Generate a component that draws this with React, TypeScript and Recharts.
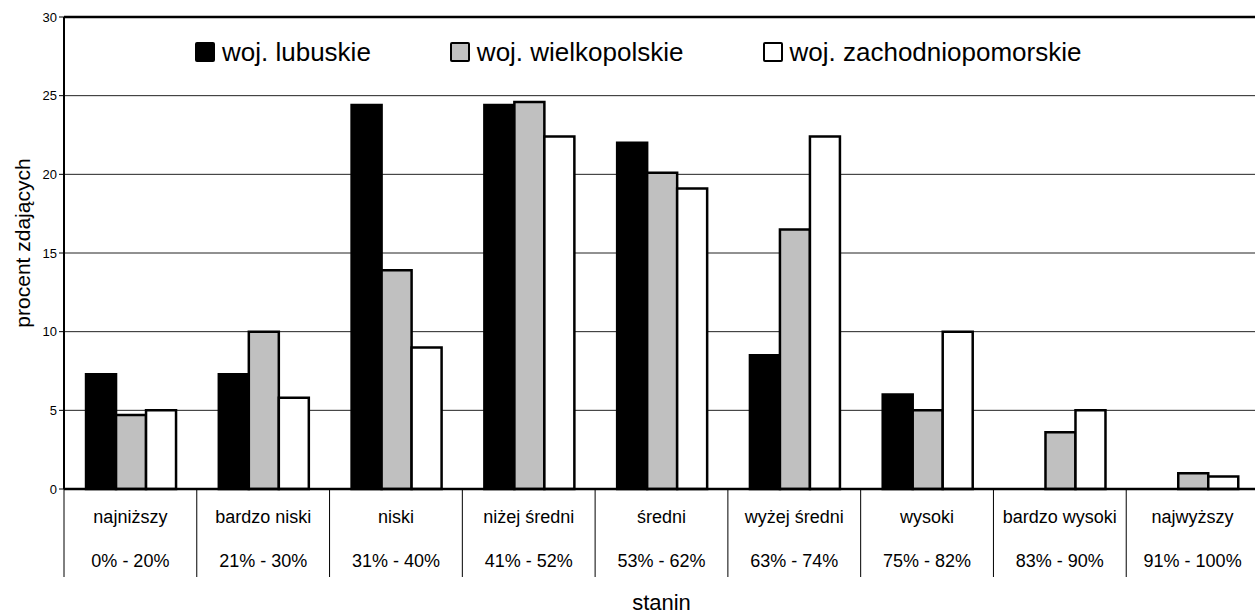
import React from 'react';
import { BarChart, Bar, XAxis, YAxis, CartesianGrid, Legend, Label, ReferenceLine } from 'recharts';

const categories = ['najniższy', 'bardzo niski', 'niski', 'niżej średni', 'średni', 'wyżej średni', 'wysoki', 'bardzo wysoki', 'najwyższy'];
const ranges = ['0% - 20%', '21% - 30%', '31% - 40%', '41% - 52%', '53% - 62%', '63% - 74%', '75% - 82%', '83% - 90%', '91% - 100%'];
const lubuskie = [7.3, 7.3, 24.4, 24.4, 22.0, 8.5, 6.0, 0, 0];
const wielkopolskie = [4.7, 10.0, 13.9, 24.6, 20.1, 16.5, 5.0, 3.6, 1.0];
const zachodniopomorskie = [5.0, 5.8, 9.0, 22.4, 19.1, 22.4, 10.0, 5.0, 0.8];
const seriesKeys = ['lub', 'wlkp', 'zach'];
const seriesNames = ['woj. lubuskie', 'woj. wielkopolskie', 'woj. zachodniopomorskie'];
const seriesFills = ['#000000', '#c0c0c0', '#ffffff'];
const yTicks = [0, 5, 10, 15, 20, 25, 30];

const data = categories.map((c, i) => ({
  name: c,
  range: ranges[i],
  lub: lubuskie[i],
  wlkp: wielkopolskie[i],
  zach: zachodniopomorskie[i],
}));

const FONT = '"Liberation Sans", Arial, sans-serif';

const CategoryTick = (props: any) => {
  const { x, y, payload, width, visibleTicksCount } = props;
  const half = payload && payload.offset && payload.offset > 0 ? payload.offset : width / visibleTicksCount / 2;
  const idx = payload.index ?? categories.indexOf(payload.value);
  return (
    <g>
      <line x1={x - half} y1={y} x2={x - half} y2={y + 88} stroke="#000" strokeWidth={1} />
      <text x={x} y={y + 34} textAnchor="middle" fontSize={18} fontFamily={FONT} fill="#000">
        {payload.value}
      </text>
      <text x={x} y={y + 78} textAnchor="middle" fontSize={18} fontFamily={FONT} fill="#000">
        {ranges[idx]}
      </text>
    </g>
  );
};

const LegendContent = () => (
  <div style={{ display: 'flex', alignItems: 'center', height: 26, fontFamily: FONT }}>
    {seriesNames.map((n, i) => (
      <div key={n} style={{ display: 'flex', alignItems: 'center', marginRight: i < seriesNames.length - 1 ? 79 : 0 }}>
        <div
          style={{
            width: 20,
            height: 20,
            boxSizing: 'border-box',
            background: seriesFills[i],
            border: '2.5px solid #000',
            borderRadius: 2,
          }}
        />
        <span style={{ fontSize: 26, lineHeight: '26px', marginLeft: 7, color: '#000', whiteSpace: 'nowrap' }}>{n}</span>
      </div>
    ))}
  </div>
);

export default function App() {
  return (
    <div style={{ position: 'absolute', left: 0, top: 0, width: 1255, height: 615, overflow: 'hidden', background: '#fff' }}>
      <BarChart
        width={1260}
        height={615}
        data={data}
        margin={{ top: 17, right: 1, left: 0, bottom: 0 }}
        barGap={0}
        barCategoryGap="16.6%"
      >
        <CartesianGrid vertical={false} stroke="#222" strokeWidth={1} />
        <XAxis
          dataKey="name"
          height={126}
          tickSize={0}
          tickMargin={0}
          tickLine={false}
          axisLine={{ stroke: '#000', strokeWidth: 2.5 }}
          tick={<CategoryTick />}
          interval={0}
        >
          <Label
            content={(p: any) => {
              const vb = p.viewBox;
              return (
                <text x={vb.x + vb.width / 2} y={vb.y + 121} textAnchor="middle" fontSize={22} fontFamily={FONT} fill="#000">
                  stanin
                </text>
              );
            }}
          />
        </XAxis>
        <YAxis
          width={64}
          domain={[0, 30]}
          ticks={yTicks}
          interval={0}
          tickSize={5}
          tickMargin={2}
          tick={{ fontSize: 13, fill: '#000', fontFamily: FONT }}
          tickLine={{ stroke: '#000' }}
          axisLine={{ stroke: '#000', strokeWidth: 2 }}
        >
          <Label
            content={(p: any) => {
              const vb = p.viewBox;
              const cy = vb.y + vb.height / 2 - 10;
              return (
                <text
                  x={22}
                  y={cy}
                  transform={`rotate(-90, 22, ${cy})`}
                  textAnchor="middle"
                  dominantBaseline="central"
                  fontSize={21}
                  fontFamily={FONT}
                  fill="#000"
                >
                  procent zdających
                </text>
              );
            }}
          />
        </YAxis>
        <ReferenceLine y={30} stroke="#000" strokeWidth={2.5} />
        <Legend
          layout="horizontal"
          verticalAlign="middle"
          align="center"
          content={<LegendContent />}
          wrapperStyle={{ position: 'absolute', top: 39, left: 195, width: 'auto' }}
        />
        {seriesKeys.map((k, i) => (
          <Bar key={k} dataKey={k} name={seriesNames[i]} fill={seriesFills[i]} stroke="#000" strokeWidth={2.5} isAnimationActive={false} />
        ))}
      </BarChart>
    </div>
  );
}
